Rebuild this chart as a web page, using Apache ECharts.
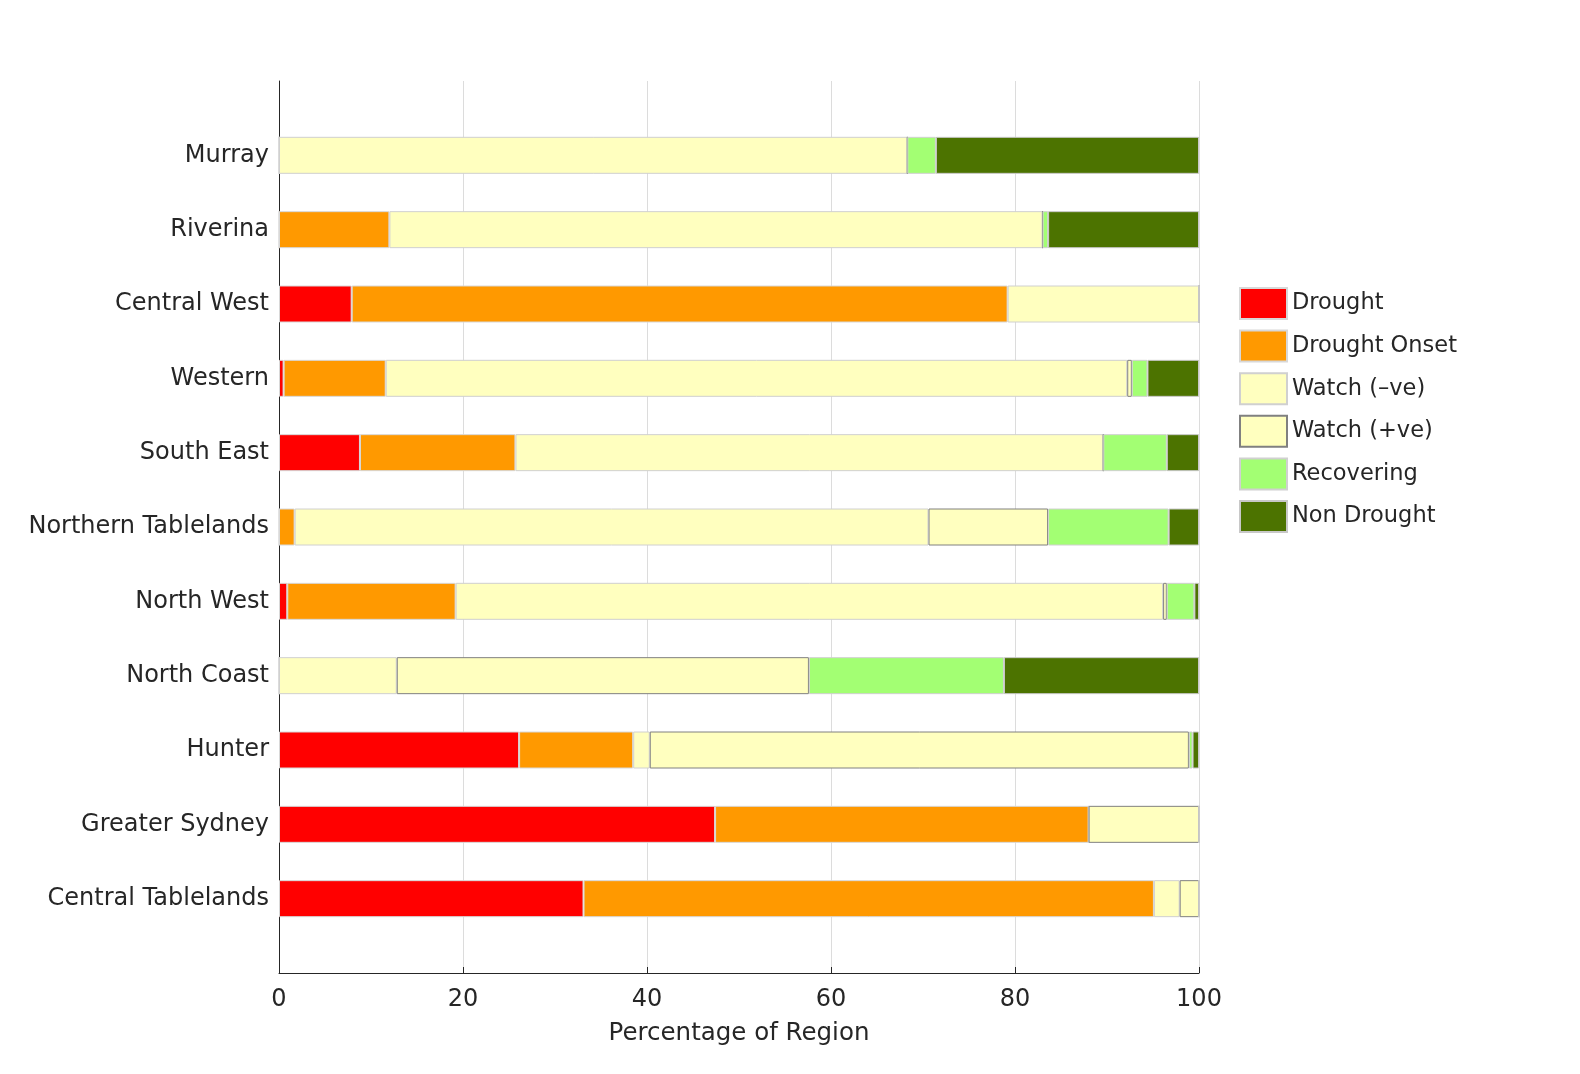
<!DOCTYPE html>
<html lang="en">
<head>
    <meta charset="UTF-8">
    <title>Drought status by region</title>
    <style>
        html, body { margin: 0; padding: 0; background: #fff; }
        #main { width: 1580px; height: 1074px; }
    </style>
</head>
<body>
<div id="main"></div>
<script src="https://cdn.jsdelivr.net/npm/echarts@6/dist/echarts.min.js"></script>
<script>
    // regions, bottom to top
    var regions = ['Central Tablelands', 'Greater Sydney', 'Hunter', 'North Coast', 'North West',
        'Northern Tablelands', 'South East', 'Western', 'Central West', 'Riverina', 'Murray'];

    var drought      = [33.1, 47.4, 26.1, 0,    0.9,  0,    8.8,  0.5,  7.9,  0,    0];
    var droughtOnset = [62.0, 40.6, 12.4, 0,    18.3, 1.7,  16.9, 11.1, 71.3, 12.0, 0];
    var watchNeg     = [2.8,  0,    1.8,  12.8, 76.9, 68.9, 63.9, 80.6, 20.8, 71.0, 68.3];
    var watchPos     = [2.1,  12.0, 58.6, 44.8, 0.4,  13.0, 0,    0.5,  0,    0,    0];
    var recovering   = [0,    0,    0.4,  21.2, 3.0,  13.1, 6.9,  1.7,  0,    0.6,  3.1];
    var nonDrought   = [0,    0,    0.7,  21.2, 0.5,  3.3,  3.5,  5.6,  0,    16.4, 28.6];

    var xTicks = [0, 20, 40, 60, 80, 100];

    // empty slots top and bottom so the axis runs past the first and last bar
    var cats = [''].concat(regions).concat(['']);
    function pad(arr) { return [null].concat(arr).concat([null]); }

    var font = 'DejaVu Sans';
    var textColor = '#262626';

    function makeSeries(name, data, color, border) {
        return {
            name: name,
            type: 'bar',
            stack: 'total',
            barWidth: 37,
            data: pad(data),
            itemStyle: { color: color, borderColor: border, borderWidth: 1 }
        };
    }

    var chart = echarts.init(document.getElementById('main'));
    chart.setOption({
        backgroundColor: '#ffffff',
        animation: false,
        textStyle: { fontFamily: font },
        grid: { left: 279, right: 381, top: 81, bottom: 101 },
        legend: {
            orient: 'vertical',
            left: 1234,
            top: 282,
            itemWidth: 47,
            itemHeight: 31,
            itemGap: 9.6,
            icon: 'rect',
            textStyle: { fontFamily: font, fontSize: 22.5, color: textColor, lineHeight: 31 },
            data: ['Drought', 'Drought Onset', 'Watch (\u2013ve)', 'Watch (+ve)', 'Recovering', 'Non Drought']
        },
        xAxis: {
            type: 'value',
            min: 0,
            max: 100,
            interval: 20,
            name: 'Percentage of Region',
            nameLocation: 'middle',
            nameGap: 48,
            nameTextStyle: { fontFamily: font, fontSize: 24.5, color: textColor },
            axisLine: { show: true, lineStyle: { color: '#262626', width: 1 } },
            axisTick: { show: true, inside: true, length: 6, lineStyle: { color: '#262626' } },
            axisLabel: {
                fontFamily: font, fontSize: 24, color: textColor, margin: 15,
                formatter: function (v) { return xTicks.indexOf(v) >= 0 ? String(v) : ''; }
            },
            splitLine: { show: true, lineStyle: { color: '#dcdcdc', width: 1 } }
        },
        yAxis: {
            type: 'category',
            data: cats,
            boundaryGap: false,
            axisLine: { show: true, lineStyle: { color: '#262626', width: 1 } },
            axisTick: { show: false },
            axisLabel: { fontFamily: font, fontSize: 24, color: textColor, margin: 10, interval: 0,
                padding: [4, 0, 0, 0] },
            splitLine: { show: false }
        },
        series: [
            makeSeries('Drought', drought, '#ff0000', '#d8d8d8'),
            makeSeries('Drought Onset', droughtOnset, '#ff9900', '#d8d8d8'),
            makeSeries('Watch (\u2013ve)', watchNeg, '#ffffbf', '#d0d0d0'),
            makeSeries('Watch (+ve)', watchPos, '#ffffbf', '#808080'),
            makeSeries('Recovering', recovering, '#a3ff73', '#d0d0d0'),
            makeSeries('Non Drought', nonDrought, '#4c7300', '#c8c8c8')
        ]
    });
</script>
</body>
</html>
